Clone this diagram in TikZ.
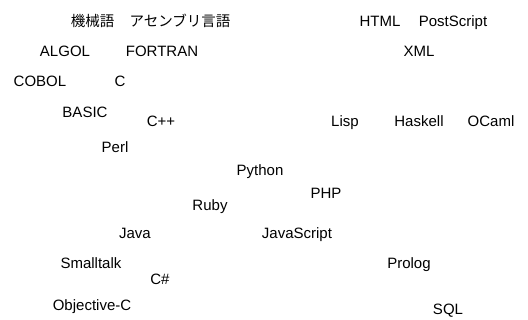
\documentclass[tikz,border=0pt]{standalone}
\usepackage{fontspec}
\setmainfont{Liberation Sans}
\newfontfamily\cjk{Noto Sans CJK JP}
\usetikzlibrary{positioning}

\begin{document}
\begin{tikzpicture}[x=1pt, y=-1pt,
  lang/.style={anchor=base, inner sep=0pt, font=\fontsize{15}{18}\selectfont},
  jlang/.style={lang, font=\fontsize{14.5}{18}\cjk}]
  \useasboundingbox (0,0) rectangle (528,320);
  \node[jlang] (kikaigo) at (92.5,26.5) {機械語};
  \node[jlang] (asm) at (180,26.5) {アセンブリ言語};
  \node[lang] (html) at (380,26.5) {HTML};
  \node[lang] (ps) at (453,26.5) {PostScript};

  \node[lang] (algol) at (65,57) {ALGOL};
  \node[lang] (fortran) at (162,57) {FORTRAN};
  \node[lang] (xml) at (419,57) {XML};

  \node[lang] (cobol) at (40,86.5) {COBOL};
  \node[lang] (c) at (120,86.5) {C};

  \node[lang] (basic) at (85,118) {BASIC};
  \node[lang] (cpp) at (161,127) {C++};
  \node[lang] (lisp) at (345,126.5) {Lisp};
  \node[lang] (haskell) at (419,126.5) {Haskell};
  \node[lang] (ocaml) at (491,126.5) {OCaml};

  \node[lang] (perl) at (115,153) {Perl};
  \node[lang] (python) at (260,175.5) {Python};
  \node[lang] (php) at (326,198.3) {PHP};
  \node[lang] (ruby) at (210,211) {Ruby};

  \node[lang] (java) at (135,238.3) {Java};
  \node[lang] (js) at (297,238.3) {JavaScript};

  \node[lang] (smalltalk) at (91,268.3) {Smalltalk};
  \node[lang] (prolog) at (409,268.3) {Prolog};
  \node[lang] (csharp) at (160,285) {C\#};

  \node[lang] (objc) at (92,311) {Objective-C};
  \node[lang] (sql) at (448,315) {SQL};
\end{tikzpicture}
\end{document}
